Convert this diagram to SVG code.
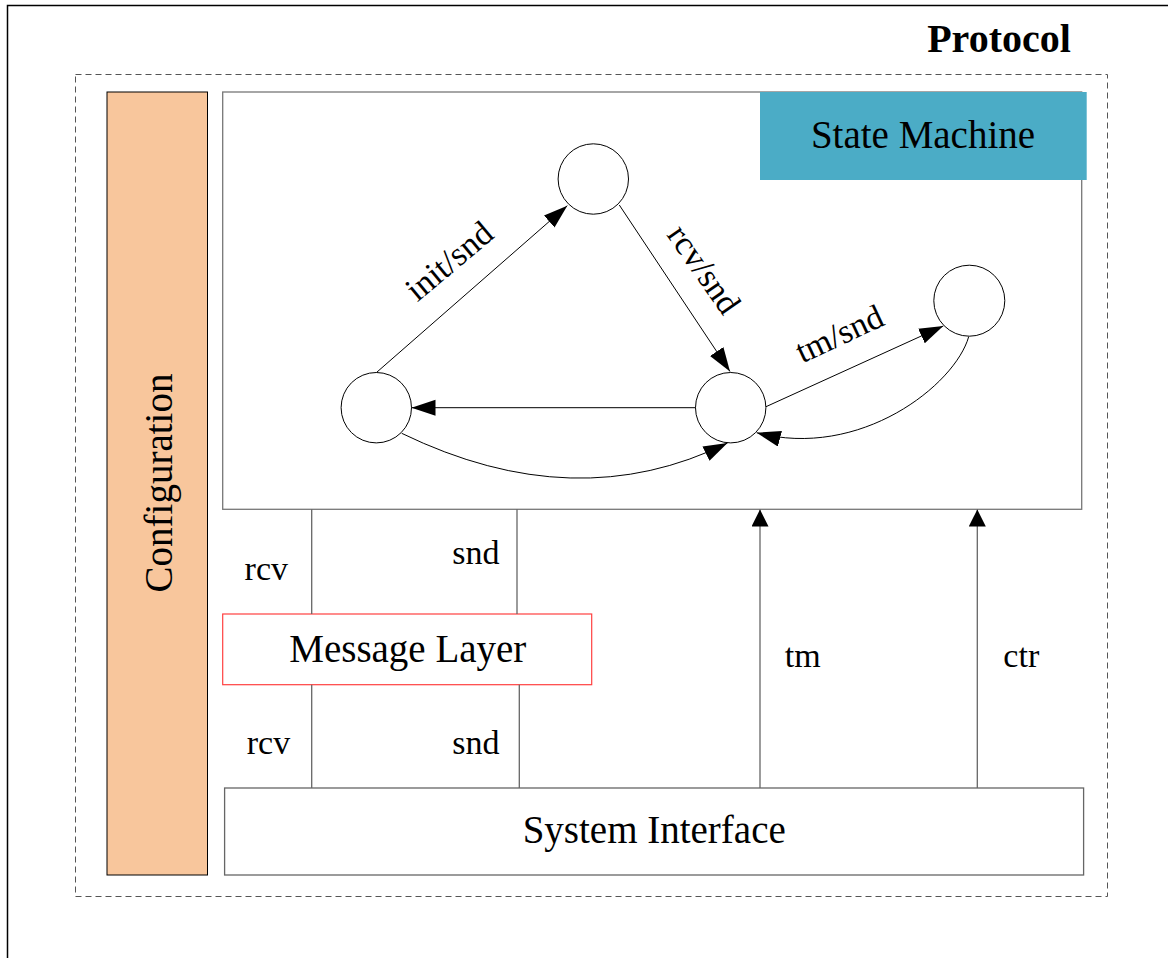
<svg xmlns="http://www.w3.org/2000/svg" width="1168" height="958" viewBox="0 0 1168 958">
<style>
text{font-family:"Liberation Serif","Times New Roman",serif;fill:#000}
.lbl{font-size:34px;text-anchor:middle}
.ttl{font-size:39px;text-anchor:middle}
.st{fill:#fff;stroke:#000;stroke-width:1}
.edge{fill:none;stroke:#000;stroke-width:1}
.bar{fill:none;stroke:#666;stroke-width:1.3}
</style>
<defs>
<marker id="ah" markerUnits="userSpaceOnUse" markerWidth="25" markerHeight="17" refX="24" refY="8" orient="auto">
<path d="M0,0 L24,8 L0,16 z" fill="#000"/>
</marker>
<marker id="ab" markerUnits="userSpaceOnUse" markerWidth="18" markerHeight="18" refX="17" refY="8.5" orient="auto">
<path d="M0,0 L17,8.5 L0,17 z" fill="#000"/>
</marker>
</defs>
<rect x="7.5" y="5.5" width="1200" height="1000" fill="#fff" stroke="#000" stroke-width="1.5"/>
<text x="999" y="52" style="font-size:40px;font-weight:bold;text-anchor:middle">Protocol</text>
<rect x="75.5" y="74.5" width="1032" height="822" fill="none" stroke="#555" stroke-width="1" stroke-dasharray="6,4"/>
<g id="configuration">
<rect x="107" y="92" width="100.5" height="783" fill="#F8C69C" stroke="#000" stroke-width="1"/>
<text class="ttl" transform="translate(172,483) rotate(-90)">Configuration</text>
</g>
<g id="state-machine">
<rect x="222.7" y="92" width="859" height="417.3" fill="#fff" stroke="#777" stroke-width="1.3"/>
<rect x="760" y="92" width="326.7" height="88" fill="#4BACC6"/>
<text class="ttl" x="923" y="147.7">State Machine</text>
</g>
<g id="s-top"><circle class="st" cx="593.3" cy="179" r="35.2"/></g>
<g id="s-left"><circle class="st" cx="376.3" cy="407.7" r="35.2"/></g>
<g id="s-mid"><circle class="st" cx="730.7" cy="407.7" r="35.2"/></g>
<g id="s-right"><circle class="st" cx="969.3" cy="300.7" r="35.5"/></g>
<g id="message-layer">
<rect x="222.7" y="614" width="369" height="70.7" fill="#fff" stroke="#ff4040" stroke-width="1.2"/>
<text class="ttl" x="407.8" y="661.7">Message Layer</text>
</g>
<g id="system-interface">
<rect x="224.6" y="788" width="859" height="87" fill="#fff" stroke="#666" stroke-width="1.3"/>
<text class="ttl" x="654.2" y="843.3">System Interface</text>
</g>
<g id="connectors">
<line class="edge" x1="376.7" y1="372.3" x2="567.3" y2="205.7" marker-end="url(#ah)"/>
<line class="edge" x1="619.3" y1="205" x2="730" y2="371.5" marker-end="url(#ah)"/>
<line class="edge" x1="695.5" y1="407.7" x2="411.5" y2="407.7" stroke="#555" marker-end="url(#ah)"/>
<path class="edge" d="M401.7,433.3 Q575.6,517.8 727.5,443" marker-end="url(#ah)"/>
<line class="edge" x1="766" y1="406.7" x2="943.3" y2="326" marker-end="url(#ah)"/>
<path class="edge" d="M968.7,336.7 C955,385 860,460 756.7,432.7" marker-end="url(#ah)"/>
<line class="bar" x1="311.7" y1="509.3" x2="311.7" y2="614"/>
<line class="bar" x1="517" y1="509.3" x2="517" y2="614" stroke="#333"/>
<line class="bar" x1="311.7" y1="684.7" x2="311.7" y2="788"/>
<line class="bar" x1="519.3" y1="684.7" x2="519.3" y2="788" stroke="#000"/>
<line class="bar" x1="760" y1="788" x2="760" y2="509.5" marker-end="url(#ab)"/>
<line class="bar" x1="977.3" y1="788" x2="977.3" y2="509.5" stroke="#000" marker-end="url(#ab)"/>
<text class="lbl" transform="translate(450,262) rotate(-40)" y="10">init/snd</text>
<text class="lbl" transform="translate(703,270) rotate(55)" y="10">rcv/snd</text>
<text class="lbl" transform="translate(840,335) rotate(-25)" y="10">tm/snd</text>
<text class="lbl" x="266.3" y="580">rcv</text>
<text class="lbl" x="475.8" y="564">snd</text>
<text class="lbl" x="268.5" y="754">rcv</text>
<text class="lbl" x="475.8" y="754">snd</text>
<text class="lbl" x="802.8" y="666.7">tm</text>
<text class="lbl" x="1021.3" y="666.7">ctr</text>
</g>
</svg>
